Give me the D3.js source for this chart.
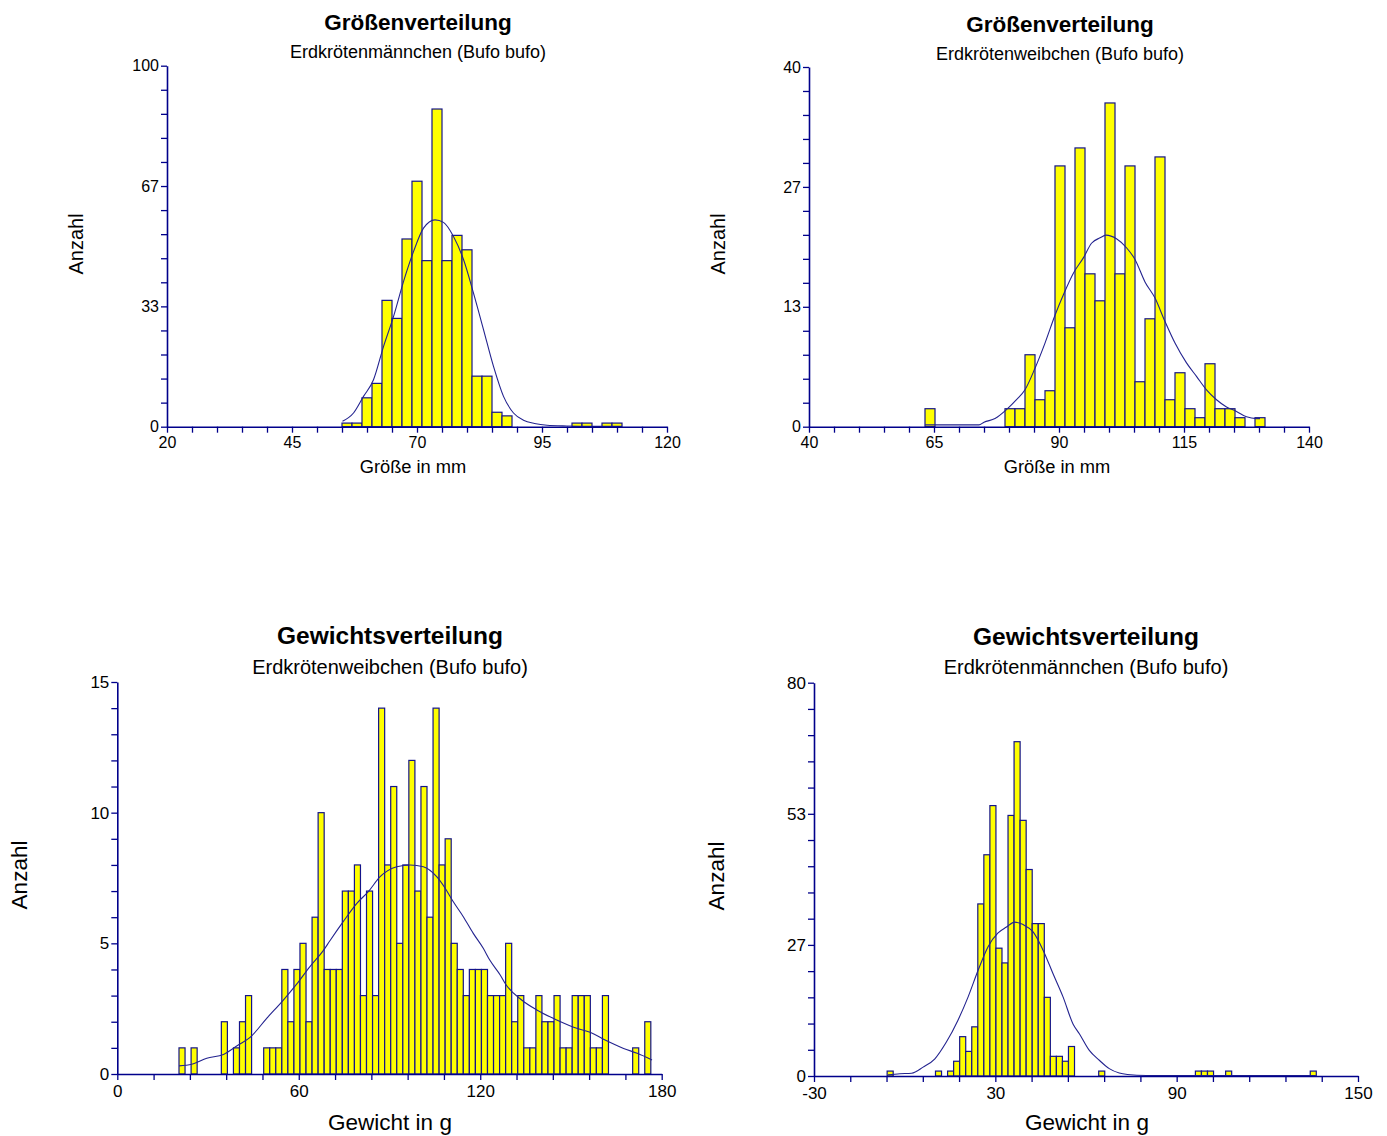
<!DOCTYPE html>
<html>
<head>
<meta charset="utf-8">
<script src="https://cdn.jsdelivr.net/npm/d3@7"></script>
<style>
  body { margin: 0; background: #fff; }
  svg { display: block; }
  text { font-family: "Liberation Sans", Arial, sans-serif; fill: #000; }
</style>
</head>
<body>
<svg id="chart" width="1387" height="1136"></svg>
<script>
// Histogram bin width (mm or g)
const binWidth = 2;

// Körpergröße, Männchen (mm), first bin starts at 55
const maleSizeStart = 55;
const maleSizeCounts = [1, 1, 8, 12, 35, 30, 52, 68, 46, 88, 46, 53, 49, 14, 14, 4, 3,
  0, 0, 0, 0, 0, 0, 1, 1, 0, 1, 1];
const maleSizeCurve = [[55.1, 1.5], [57.3, 3.8], [59.3, 8.4], [61.3, 13.0], [63.3, 22.2], [65.3, 30.5],
  [67.3, 40.2], [69.3, 48.5], [71.3, 55.0], [73.6, 57.3], [75.3, 56.6], [77.3, 52.7], [79.3, 46.3],
  [81.3, 37.0], [83.3, 26.9], [85.3, 16.7], [87.3, 8.4], [89.3, 3.8], [91.3, 1.8], [93.5, 0.9],
  [96, 0.4], [100, 0.2], [105, 0.1], [111, 0.1]];

// Körpergröße, Weibchen (mm), first bin starts at 63.2
const femaleSizeStart = 63.2;
const femaleSizeCounts = [2, 0, 0, 0, 0, 0, 0, 0, 2, 2, 8, 3, 4, 29, 11, 31, 17, 14, 36, 17, 29, 5,
  12, 30, 3, 6, 2, 1, 7, 2, 2, 1, 0, 1];
const femaleSizeCurve = [[63.2, 0.2], [67, 0.2], [74, 0.2], [75, 0.5], [77.2, 0.9], [79.5, 1.9],
  [81.5, 3.0], [83.2, 4.1], [85.2, 6.5], [87.2, 9.3], [89.2, 12.4], [90.9, 14.7], [92.9, 17.1],
  [94.9, 18.8], [96.5, 20.4], [98.2, 21.0], [99.4, 21.3], [101.5, 20.9], [103.5, 19.9], [105.2, 18.6],
  [107.2, 16.1], [109.2, 14.3], [111.2, 11.7], [113.2, 9.3], [115.5, 7.1], [117.5, 5.6], [119.5, 4.1],
  [121.5, 3.0], [123.5, 2.2], [125.5, 1.7], [127.5, 1.1], [129.5, 0.9], [130.2, 0.9]];

// Gewicht, Weibchen (g), first bin starts at 20.4
const femaleWeightStart = 20.4;
const femaleWeightCounts = [1, 0, 1, 0, 0, 0, 0, 2, 0, 1, 2, 3, 0, 0, 1, 1, 1, 4, 2, 4, 5, 2, 6, 10,
  4, 4, 4, 7, 7, 8, 3, 7, 3, 14, 8, 11, 5, 8, 12, 7, 11, 6, 14, 8, 9, 5, 4, 3, 4, 4, 4, 3, 3, 3, 5, 2,
  3, 1, 1, 3, 2, 2, 3, 1, 1, 3, 3, 3, 1, 1, 3, 0, 0, 0, 0, 1, 0, 2];
const femaleWeightCurve = [[20.4, 0.31], [24.6, 0.37], [29.6, 0.6], [35.1, 0.75], [40.0, 1.11],
  [43.9, 1.4], [49.4, 2.13], [54.9, 2.83], [59.3, 3.44], [63.7, 4.11], [68.1, 4.72], [70.3, 5.1],
  [74.7, 5.83], [79.2, 6.53], [83.0, 6.98], [86.9, 7.55], [92.4, 7.93], [96.8, 8.0], [101.2, 7.93],
  [105.6, 7.55], [108.4, 7.11], [111.1, 6.59], [114.4, 6.02], [117.7, 5.38], [121.0, 4.81],
  [123.2, 4.35], [126.6, 3.79], [128.2, 3.47], [133.7, 2.83], [138.7, 2.45], [145.3, 2.07],
  [151.9, 1.75], [156.3, 1.6], [161.3, 1.3], [167.4, 0.98], [171.9, 0.79], [176.8, 0.54]];

// Gewicht, Männchen (g), first bin starts at -5.8
const maleWeightStart = -5.8;
const maleWeightCounts = [1, 0, 0, 0, 0, 0, 0, 0, 1, 0, 1, 3, 8, 5, 10, 35, 45, 55, 26, 23, 53, 68,
  52, 42, 31, 31, 16, 4, 4, 3, 6, 0, 0, 0, 0, 1, 0, 0, 0, 0, 0, 0, 0, 0, 0, 0, 0, 0, 0, 0, 0, 1, 1,
  1, 0, 0, 1, 0, 0, 0, 0, 0, 0, 0, 0, 0, 0, 0, 0, 0, 1];
const maleWeightCurve = [[-5.5, 0.24], [-1.6, 0.45], [2.3, 0.57], [6.1, 1.8], [10.0, 3.5], [13.8, 6.9],
  [17.6, 11.3], [21.0, 16.1], [24.3, 21.5], [27.6, 26.3], [30.9, 29.1], [33.7, 30.3], [36.4, 31.3],
  [39.2, 30.8], [42.5, 29.3], [45.8, 25.6], [49.1, 20.8], [52.4, 16.1], [55.7, 10.6], [57.8, 8.6],
  [61.1, 5.2], [64.4, 3.2], [67.7, 1.5], [71.0, 0.6], [73.7, 0.3], [80, 0.1], [100, 0.1], [136, 0.1]];

// Axis ranges and labels
const sizeMaleX = [20, 120], sizeMaleY = [0, 100];
const sizeFemaleX = [40, 140], sizeFemaleY = [0, 40];
const weightFemaleX = [0, 180], weightFemaleY = [0, 15];
const weightMaleX = [-30, 150], weightMaleY = [0, 80];

const titles = ["Größenverteilung", "Größenverteilung", "Gewichtsverteilung", "Gewichtsverteilung"];
const subtitles = ["Erdkrötenmännchen (Bufo bufo)", "Erdkrötenweibchen (Bufo bufo)",
  "Erdkrötenweibchen (Bufo bufo)", "Erdkrötenmännchen (Bufo bufo)"];
const xTitles = ["Größe in mm", "Größe in mm", "Gewicht in g", "Gewicht in g"];
const yTitle = "Anzahl";

const navy = "#00008b";
const svg = d3.select("#chart");

const panels = [
  { start: maleSizeStart, counts: maleSizeCounts, curve: maleSizeCurve, xd: sizeMaleX, yd: sizeMaleY,
    xMinor: 20, left: 167, right: 667, bottom: 426.7, top: 65.7,
    tickFont: 16, titleFont: 22.5, subFont: 18, xtFont: 18.3, ytFont: 20,
    titleX: 418, titleY: 30, subY: 58, yLabX: 83, yLabY: 244, xLabX: 413, xLabY: 473, xTickDy: 4 },
  { start: femaleSizeStart, counts: femaleSizeCounts, curve: femaleSizeCurve, xd: sizeFemaleX, yd: sizeFemaleY,
    xMinor: 20, left: 809, right: 1309, bottom: 426.7, top: 67,
    tickFont: 16, titleFont: 22.5, subFont: 18, xtFont: 18.3, ytFont: 20,
    titleX: 1060, titleY: 32, subY: 60, yLabX: 725, yLabY: 244, xLabX: 1057, xLabY: 473, xTickDy: 4 },
  { start: femaleWeightStart, counts: femaleWeightCounts, curve: femaleWeightCurve, xd: weightFemaleX, yd: weightFemaleY,
    xMinor: 15, left: 117.3, right: 661.7, bottom: 1074, top: 682,
    tickFont: 17, titleFont: 24.5, subFont: 20, xtFont: 22.5, ytFont: 22.5,
    titleX: 390, titleY: 644, subY: 674, yLabX: 27, yLabY: 875, xLabX: 390, xLabY: 1130, xTickDy: 5 },
  { start: maleWeightStart, counts: maleWeightCounts, curve: maleWeightCurve, xd: weightMaleX, yd: weightMaleY,
    xMinor: 15, left: 814, right: 1358, bottom: 1076, top: 682.7,
    tickFont: 17, titleFont: 24.5, subFont: 20, xtFont: 22.5, ytFont: 22.5,
    titleX: 1086, titleY: 645, subY: 674, yLabX: 724, yLabY: 876, xLabX: 1087, xLabY: 1130, xTickDy: 5 }
];

panels.forEach((p, k) => {
  const g = svg.append("g");
  const x = d3.scaleLinear().domain(p.xd).range([p.left, p.right]);
  const y = d3.scaleLinear().domain(p.yd).range([p.bottom, p.top]);

  // histogram bars (empty bins are skipped)
  const bins = p.counts.map((n, i) => ({ x0: p.start + i * binWidth, x1: p.start + (i + 1) * binWidth, n }))
    .filter(d => d.n > 0);
  g.append("g").selectAll("rect").data(bins).join("rect")
    .attr("x", d => x(d.x0))
    .attr("width", d => x(d.x1) - x(d.x0))
    .attr("y", d => y(d.n))
    .attr("height", d => y(0) - y(d.n))
    .attr("fill", "#ffff00")
    .attr("stroke", "#14148a")
    .attr("stroke-width", 1.2);

  // fitted distribution curve
  g.append("path").datum(p.curve)
    .attr("d", d3.line().x(d => x(d[0])).y(d => y(d[1])).curve(d3.curveMonotoneX))
    .attr("fill", "none")
    .attr("stroke", "#23238f")
    .attr("stroke-width", 1.1);

  // plain integer labels with an ASCII hyphen for negatives
  const label = v => String(Math.round(v));

  // x axis: minor ticks, every fifth one labelled
  const xStep = (p.xd[1] - p.xd[0]) / p.xMinor;
  const xTicks = d3.range(p.xMinor + 1).map(i => p.xd[0] + i * xStep);
  const xAxis = d3.axisBottom(x).tickValues(xTicks).tickSize(6).tickSizeOuter(0).tickPadding(p.xTickDy)
    .tickFormat((v, i) => i % 5 === 0 ? label(v) : "");
  const gx = g.append("g").attr("transform", `translate(0,${p.bottom})`).call(xAxis);

  // y axis: 15 intervals, every fifth one labelled
  const yStep = (p.yd[1] - p.yd[0]) / 15;
  const yTicks = d3.range(16).map(i => p.yd[0] + i * yStep);
  const yAxis = d3.axisLeft(y).tickValues(yTicks).tickSize(6).tickSizeOuter(0).tickPadding(2)
    .tickFormat((v, i) => i % 5 === 0 ? label(v) : "");
  const gy = g.append("g").attr("transform", `translate(${p.left},0)`).call(yAxis);

  [gx, gy].forEach(a => {
    a.select(".domain").attr("stroke", navy).attr("stroke-width", 1.6);
    a.selectAll(".tick line").attr("stroke", navy).attr("stroke-width", 1.3);
    a.selectAll(".tick text").attr("fill", "#000")
      .style("font-family", '"Liberation Sans", Arial, sans-serif')
      .style("font-size", p.tickFont + "px");
  });

  // titles
  g.append("text").attr("x", p.titleX).attr("y", p.titleY).attr("text-anchor", "middle")
    .style("font-size", p.titleFont + "px").style("font-weight", "bold").text(titles[k]);
  g.append("text").attr("x", p.titleX).attr("y", p.subY).attr("text-anchor", "middle")
    .style("font-size", p.subFont + "px").text(subtitles[k]);

  // axis titles
  g.append("text").attr("transform", `translate(${p.yLabX},${p.yLabY}) rotate(-90)`)
    .attr("text-anchor", "middle").style("font-size", p.ytFont + "px").text(yTitle);
  g.append("text").attr("x", p.xLabX).attr("y", p.xLabY).attr("text-anchor", "middle")
    .style("font-size", p.xtFont + "px").text(xTitles[k]);
});
</script>
</body>
</html>
